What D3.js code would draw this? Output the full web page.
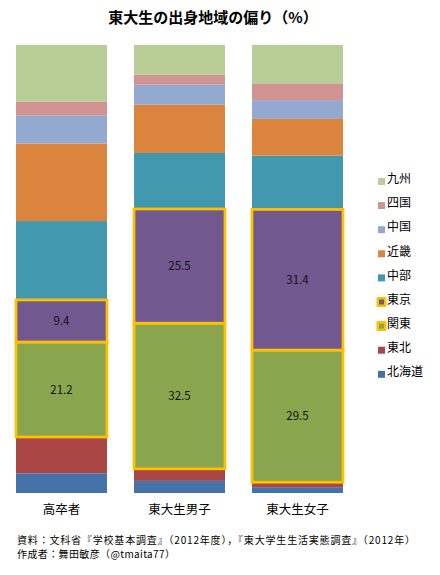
<!DOCTYPE html>
<html>
<head>
<meta charset="utf-8">
<script src="https://cdn.jsdelivr.net/npm/d3@7"></script>
<style>
  body { margin: 0; background: #fff; }
  text { font-family: "Noto Sans CJK JP", sans-serif; }
</style>
</head>
<body>
<div id="chart"></div>
<script>
// categories and series (percent)
var categories = ["高卒者", "東大生男子", "東大生女子"];
var regions = ["北海道", "東北", "関東", "東京", "中部", "近畿", "中国", "四国", "九州"];
var hokkaido = [4.4, 2.7, 1.3];
var tohoku = [8.1, 2.7, 1.1];
var kanto = [21.2, 32.5, 29.5];
var tokyo = [9.4, 25.5, 31.4];
var chubu = [17.6, 12.5, 12.0];
var kinki = [17.3, 10.8, 8.2];
var chugoku = [6.3, 4.5, 4.2];
var shikoku = [3.1, 2.2, 3.6];
var kyushu = [12.6, 6.6, 8.7];
var highlighted = ["東京", "関東"];

var seriesValues = [hokkaido, tohoku, kanto, tokyo, chubu, kinki, chugoku, shikoku, kyushu];
var colors = ["#4572A7", "#AA4643", "#89A54E", "#71588F", "#4198AF", "#DB843D", "#93A9CF", "#D19392", "#B9CD96"];

// table for d3.stack
var table = categories.map(function (c, i) {
  var row = { cat: c };
  regions.forEach(function (r, j) { row[r] = seriesValues[j][i]; });
  return row;
});

var svgWidth = 440, svgHeight = 575;
var svg = d3.select("#chart").append("svg")
  .attr("width", svgWidth)
  .attr("height", svgHeight);

var x = d3.scaleBand()
  .domain(categories)
  .range([16, 343])
  .paddingInner(0.229)
  .paddingOuter(0);

var y = d3.scaleLinear()
  .domain([0, 100])
  .range([493, 45]);

var color = d3.scaleOrdinal().domain(regions).range(colors);

var stacked = d3.stack().keys(regions)(table);

// title
svg.append("text")
  .attr("x", 213)
  .attr("y", 23)
  .attr("text-anchor", "middle")
  .attr("font-size", 15)
  .attr("font-weight", "bold")
  .text("東大生の出身地域の偏り（%）");

// plain segments
svg.append("g").selectAll("g")
  .data(stacked.filter(function (s) { return highlighted.indexOf(s.key) < 0; }))
  .enter().append("g")
  .attr("fill", function (s) { return color(s.key); })
  .selectAll("rect")
  .data(function (s) { return s; })
  .enter().append("rect")
  .attr("x", function (d) { return x(d.data.cat); })
  .attr("y", function (d) { return y(d[1]); })
  .attr("width", x.bandwidth())
  .attr("height", function (d) { return y(d[0]) - y(d[1]); });

// highlighted segments with yellow outline and value labels
var hl = svg.append("g").selectAll("g")
  .data(stacked.filter(function (s) { return highlighted.indexOf(s.key) >= 0; }))
  .enter().append("g");

hl.selectAll("rect")
  .data(function (s) { return s.map(function (d) { return { d: d, key: s.key }; }); })
  .enter().append("rect")
  .attr("x", function (o) { return x(o.d.data.cat); })
  .attr("y", function (o) { return y(o.d[1]); })
  .attr("width", x.bandwidth())
  .attr("height", function (o) { return y(o.d[0]) - y(o.d[1]); })
  .attr("fill", function (o) { return color(o.key); })
  .attr("stroke", "#FFC000")
  .attr("stroke-width", 2.75);

hl.selectAll("text")
  .data(function (s) { return s.map(function (d) { return { d: d, key: s.key }; }); })
  .enter().append("text")
  .attr("x", function (o) { return x(o.d.data.cat) + x.bandwidth() / 2; })
  .attr("y", function (o) { return (y(o.d[0]) + y(o.d[1])) / 2; })
  .attr("dy", "0.35em")
  .attr("text-anchor", "middle")
  .attr("font-size", 11.5)
  .attr("fill", "#111")
  .text(function (o) { return d3.format(".1f")(o.d[1] - o.d[0]); });

// category axis labels
svg.append("g").selectAll("text")
  .data(categories)
  .enter().append("text")
  .attr("x", function (c) { return x(c) + x.bandwidth() / 2; })
  .attr("y", 514)
  .attr("text-anchor", "middle")
  .attr("font-size", 12.5)
  .text(function (c) { return c; });

// legend (top to bottom: 九州 ... 北海道)
var legend = svg.append("g").selectAll("g")
  .data(regions.slice().reverse())
  .enter().append("g")
  .attr("transform", function (r, i) { return "translate(378," + (179 + i * 24.1) + ")"; });

legend.filter(function (r) { return highlighted.indexOf(r) >= 0; })
  .append("rect")
  .attr("x", -1.5).attr("y", -2.5)
  .attr("width", 10).attr("height", 10)
  .attr("rx", 1.5)
  .attr("fill", "#FFC000");

legend.append("rect")
  .attr("x", function (r) { return highlighted.indexOf(r) >= 0 ? 1 : 0; })
  .attr("y", function (r) { return highlighted.indexOf(r) >= 0 ? 0 : -1; })
  .attr("width", function (r) { return highlighted.indexOf(r) >= 0 ? 5 : 7; })
  .attr("height", function (r) { return highlighted.indexOf(r) >= 0 ? 5 : 7; })
  .attr("fill", function (r) { return color(r); });

legend.append("text")
  .attr("x", 9)
  .attr("y", 0)
  .attr("dy", "0.35em")
  .attr("font-size", 12)
  .text(function (r) { return r; });

// source notes
svg.append("text")
  .attr("x", 17)
  .attr("y", 544)
  .attr("font-size", 10)
  .attr("textLength", 398)
  .attr("lengthAdjust", "spacing")
  .text("資料：文科省『学校基本調査』（2012年度），『東大学生生活実態調査』（2012年）");

svg.append("text")
  .attr("x", 17)
  .attr("y", 558)
  .attr("font-size", 10)
  .attr("textLength", 158)
  .attr("lengthAdjust", "spacing")
  .text("作成者：舞田敏彦（@tmaita77）");
</script>
</body>
</html>
